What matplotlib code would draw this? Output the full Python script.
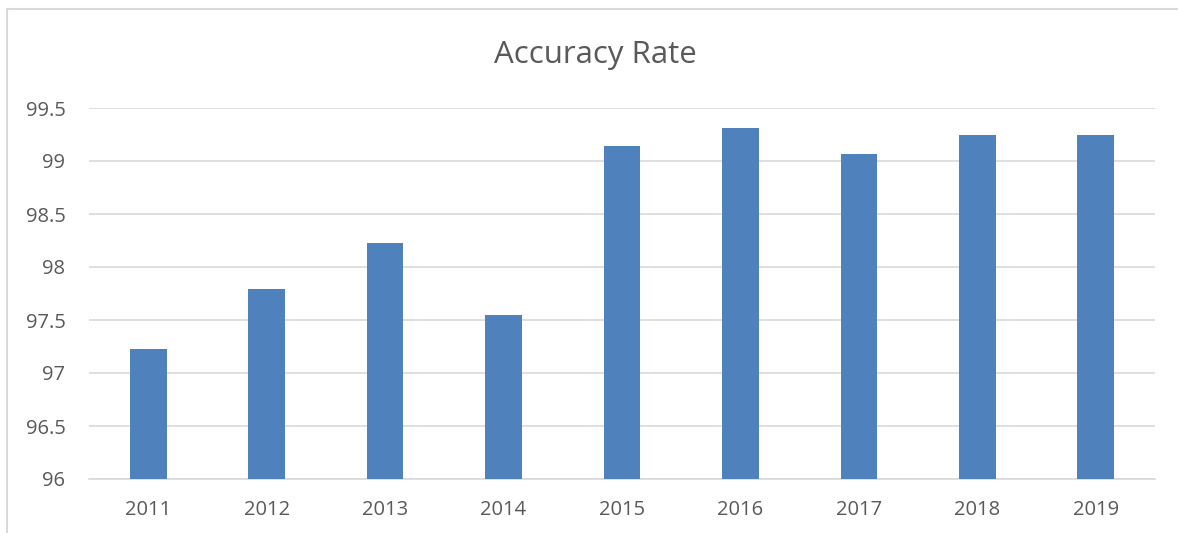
import matplotlib.pyplot as plt
from matplotlib.patches import Rectangle

years = ["2011", "2012", "2013", "2014", "2015", "2016", "2017", "2018", "2019"]
accuracy = [97.23, 97.79, 98.23, 97.55, 99.14, 99.31, 99.07, 99.25, 99.25]
yticks = [96, 96.5, 97, 97.5, 98, 98.5, 99, 99.5]
ytick_labels = ["96", "96.5", "97", "97.5", "98", "98.5", "99", "99.5"]

plt.rcParams["font.family"] = ["Open Sans", "DejaVu Sans"]
text_color = "#595959"

fig = plt.figure(figsize=(11.78, 5.33), dpi=100)
# chart frame (left and top edges visible, runs off the image on the other sides)
fig.patches.append(
    Rectangle((7 / 1178, -0.05), 1.2, 1 - 9 / 533 + 0.05, transform=fig.transFigure,
              fill=False, edgecolor="#d9d9d9", linewidth=1.5)
)
ax = fig.add_axes([89 / 1178, 1 - 479 / 533, 1066 / 1178, 371 / 533])

x = range(len(years))
ax.bar(x, accuracy, width=0.31, color="#4f81bd", zorder=3)

ax.set_ylim(96, 99.5)
ax.set_xlim(-0.5, len(years) - 0.5)
ax.set_yticks(yticks)
ax.set_yticklabels(ytick_labels)
ax.set_xticks(list(x))
ax.set_xticklabels(years)
ax.grid(axis="y", color="#d9d9d9", linewidth=1.2, zorder=0)
for s in ["top", "right", "left"]:
    ax.spines[s].set_visible(False)
ax.spines["bottom"].set_color("#d9d9d9")
ax.spines["bottom"].set_linewidth(1.2)
ax.tick_params(axis="both", length=0, labelsize=14.5, colors=text_color)
ax.tick_params(axis="y", pad=17)
ax.tick_params(axis="x", pad=15)

fig.text(595 / 1178, 1 - 55 / 533, "Accuracy Rate", ha="center", va="center",
         fontsize=22.5, color=text_color)

fig.savefig("out.png", dpi=100)
